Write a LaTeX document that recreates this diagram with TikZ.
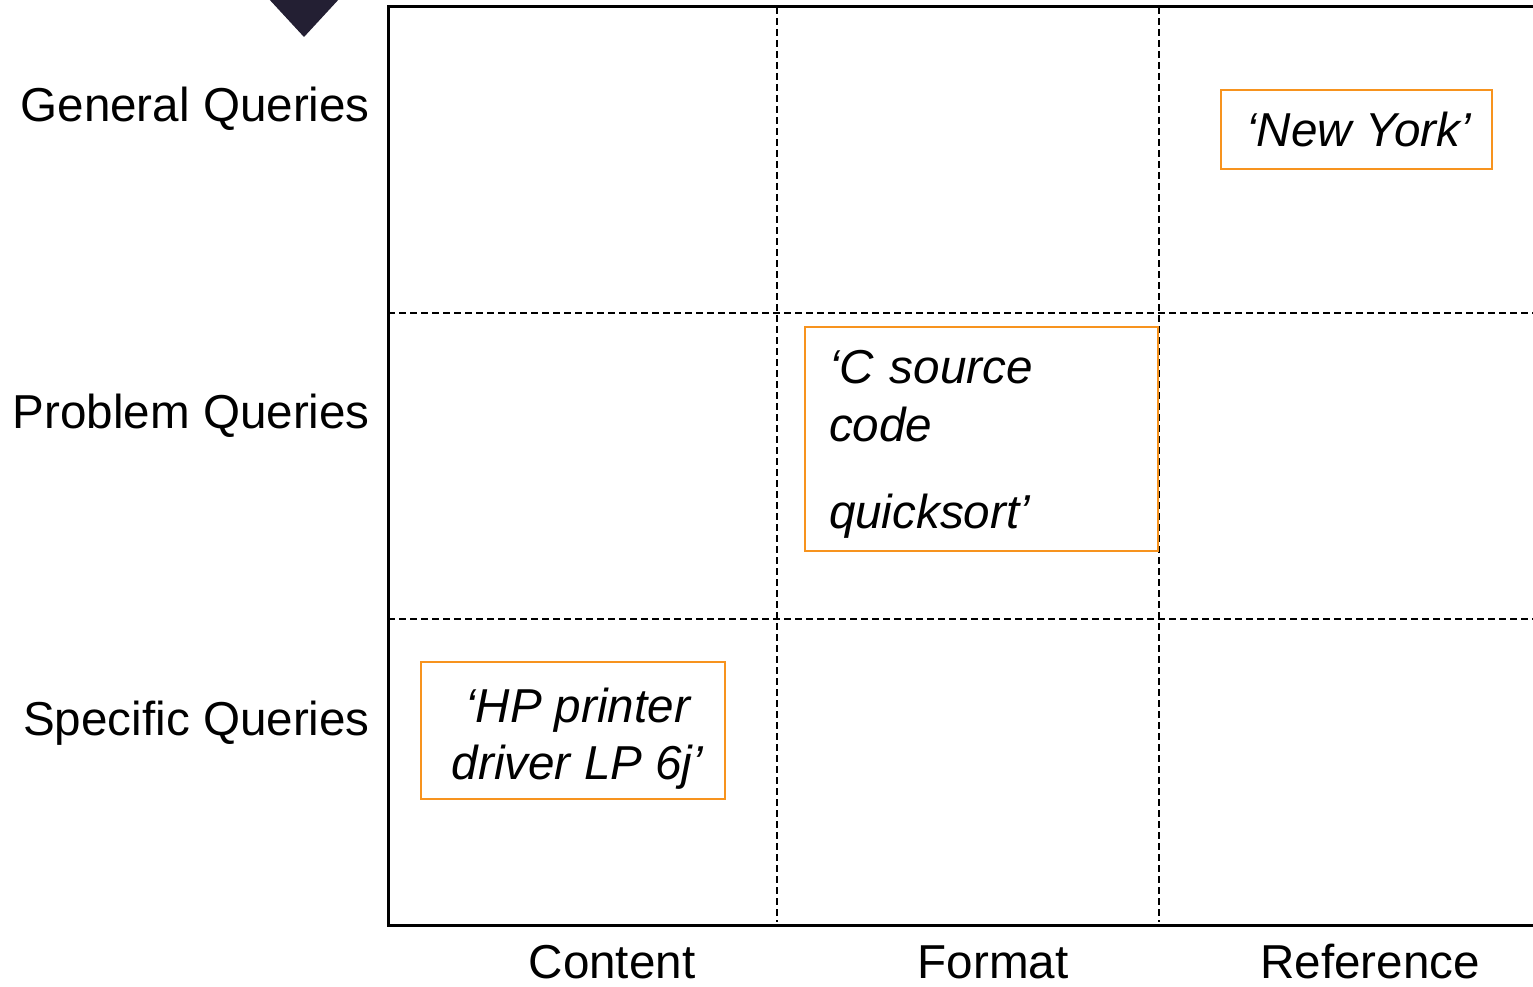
\documentclass[tikz,border=0pt]{standalone}
\usepackage{fontspec}
\setmainfont{Liberation Sans}
\definecolor{boxorange}{HTML}{F7931E}
\definecolor{marker}{HTML}{231F33}
\begin{document}
\begin{tikzpicture}[x=1pt,y=-1pt,
  every node/.style={font=\fontsize{47.6}{57.1}\selectfont, inner sep=0pt},
  frame/.style={line width=3pt},
  grid/.style={line width=2.6pt, dash pattern=on 7pt off 4pt},
  query/.style={draw=boxorange, line width=2pt, font=\fontsize{47.6}{57.1}\selectfont\itshape},
  axislabel/.style={anchor=base}]
\useasboundingbox (0,0) rectangle (1533,987);

% marker triangle at the top left
\fill[marker] (268,-2) -- (340,-2) -- (304,37) -- cycle;

% grid corners
\coordinate (tl) at (388,7);
\coordinate (bl) at (388,925);
\coordinate (tr) at (1540,7);
\coordinate (br) at (1540,925);

% dashed dividers
\coordinate (v1t) at (777,7);
\coordinate (v1b) at (777,922);
\coordinate (v2t) at (1159,7);
\coordinate (v2b) at (1159,922);
\coordinate (h1l) at (388,313);
\coordinate (h1r) at (1540,313);
\coordinate (h2l) at (388,619);
\coordinate (h2r) at (1540,619);
\draw[grid] (v1t) -- (v1b);
\draw[grid] (v2t) -- (v2b);
\draw[grid] (h1l) -- (h1r);
\draw[grid] (h2l) -- (h2r);

% solid frame
\draw[frame] (tr) -- (tl) -- (bl) -- (br);

% row labels
\node[anchor=base east] (general) at (370,122) {General Queries};
\node[anchor=base east] (problem) at (370,428) {Problem Queries};
\node[anchor=base east] (specific) at (370,735) {Specific Queries};

% column labels
\node[axislabel] (content) at (612,978) {Content};
\node[axislabel] (format) at (993,978) {Format};
\node[axislabel] (reference) at (1370,978) {Reference};

% example queries
\node[query, minimum width=271pt, minimum height=79pt] (newyork) at (1356.5,129.5) {\hspace*{4pt}‘New York’};
\node[query, minimum height=224pt, text width=305pt, inner xsep=24pt, align=left] (csource) at (981.5,439)
  {\rule{0pt}{44pt}‘C source\\code\\[30pt]quicksort’};
\node[query, minimum width=304pt, minimum height=137pt, align=center] (hp) at (573,730)
  {\rule{0pt}{51.7pt}\hspace*{9pt}‘HP printer\\\hspace*{9pt}driver LP 6j’};
\end{tikzpicture}
\end{document}
